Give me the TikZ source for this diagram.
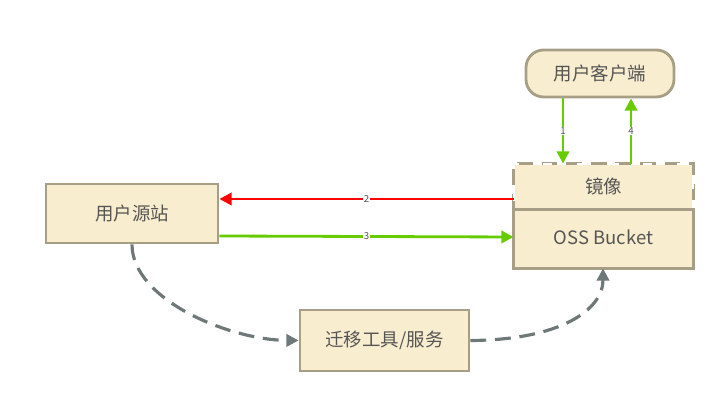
\documentclass[tikz,border=0pt]{standalone}
\usepackage{fontspec}
\setmainfont{Noto Sans CJK SC}
\usetikzlibrary{arrows.meta}
\definecolor{boxfill}{RGB}{248, 237, 207}
\definecolor{boxline}{RGB}{167, 159, 133}
\definecolor{txtgray}{RGB}{85, 85, 85}
\definecolor{flowgreen}{RGB}{102, 204, 0}
\definecolor{flowred}{RGB}{255, 0, 0}
\definecolor{pathgray}{RGB}{110, 120, 120}
\tikzset{
  box/.style={draw=boxline, fill=boxfill, line width=1.6pt, text=txtgray, font=\fontsize{10.5}{12}\selectfont},
  flow/.style={line width=1.6pt, -{Triangle[length=7pt,width=7pt]}},
  tag/.style={font=\fontsize{5.5}{6}\selectfont, text=txtgray, fill=white, inner sep=0.5pt},
  migrate/.style={pathgray, line width=1.8pt, dash pattern=on 9pt off 5pt, -{Triangle[length=7pt,width=7pt]}}
}
\begin{document}
\begin{tikzpicture}[x=0.02cm, y=-0.02cm]
\useasboundingbox (0,0) rectangle (724,404);

% Nodes
\node[box, minimum width=172*0.02cm, minimum height=59*0.02cm] (site) at (132,213.5) {用户源站};
\node[box, rounded corners=10pt, minimum width=148*0.02cm, minimum height=47*0.02cm] (client) at (600,73.5) {用户客户端};
\node[box, minimum width=169*0.02cm, minimum height=61*0.02cm] (tool) at (384.5,340.5) {迁移工具/服务};

% Bucket with mirror part
\node[box, draw=none, minimum width=177*0.02cm, minimum height=59*0.02cm] (bucket) at (603.5,237.5) {OSS Bucket};
\node[box, draw=none, minimum width=177*0.02cm, minimum height=43*0.02cm] (mirror) at (603.5,186.5) {镜像};
\draw[boxline, line width=1.6pt] (mirror.south west) -- (bucket.south west) -- (bucket.south east) -- (mirror.south east) -- cycle;
\draw[boxline, line width=1.6pt, dash pattern=on 9pt off 5pt, fill=none] (mirror.south west) -- (mirror.north west) -- (mirror.north east) -- (mirror.south east);
\draw[white, line width=1.2pt, dash pattern=on 0pt off 5pt on 5pt off 9pt] (mirror.south west) -- (mirror.north west) -- (mirror.north east) -- (mirror.south east);

% Flows
\draw[flow, flowgreen] (client.south -| 563,0) -- node[tag] {1} (mirror.north -| 563,0);
\draw[flow, flowgreen] (mirror.north -| 631,0) -- node[tag] {4} (client.south -| 631,0);
\draw[flow, flowred] (mirror.west |- 0,199) -- node[tag] {2} (site.east |- 0,199);
\draw[flow, flowgreen] (site.east |- 0,236) -- node[tag] {3} (bucket.west |- 0,237);

% Migration path
\draw[migrate] (site.south) .. controls (132,300) and (230,340) .. (tool.west);
\draw[migrate] (tool.east) .. controls (560,340) and (603,310) .. (bucket.south -| 603,0);
\end{tikzpicture}
\end{document}
